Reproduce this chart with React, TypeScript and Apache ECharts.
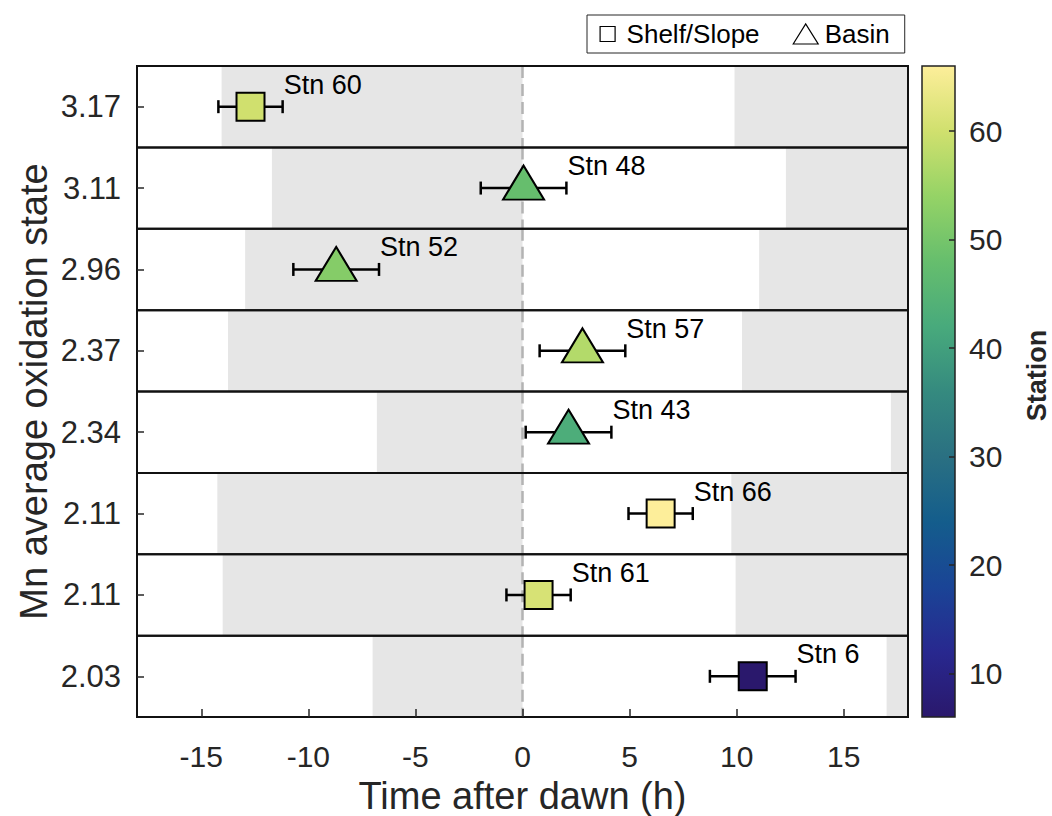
import React, { useEffect, useRef } from 'react';
import * as echarts from 'echarts';

// ---------------- data ----------------
const rowLabels = ['3.17', '3.11', '2.96', '2.37', '2.34', '2.11', '2.11', '2.03'];
const stations = [60, 48, 52, 57, 43, 66, 61, 6];
const stationType = ['Shelf/Slope', 'Basin', 'Basin', 'Basin', 'Basin', 'Shelf/Slope', 'Shelf/Slope', 'Shelf/Slope'];
const timeAfterDawn = [-12.7, 0.05, -8.7, 2.8, 2.15, 6.45, 0.75, 10.75];
const timeError = [1.5, 2.0, 2.0, 2.0, 2.0, 1.5, 1.5, 2.0];
const nightStart = [-14.05, -11.7, -12.95, -13.75, -6.8, -14.25, -14.0, -7.0];
const duskTime = [9.9, 12.3, 11.05, 10.25, 17.2, 9.75, 9.95, 17.0];
const dawnTime = 0;
const xRange = [-18, 18];
const xTicks = [-15, -10, -5, 0, 5, 10, 15];
const colorbarRange = [6, 66];
const colorbarTicks = [10, 20, 30, 40, 50, 60];
const legendNames = ['Shelf/Slope', 'Basin'];
const halineColors = [
  '#2a186c', '#28288f', '#1a4496', '#145d8c', '#2a7082', '#358a7f',
  '#48aa7c', '#66be6d', '#95d366', '#d0e06e', '#fdee9a',
];

// ---------------- layout ----------------
const FONT = '"Liberation Sans", Arial, Helvetica, sans-serif';
const PLOT_LEFT = 137;
const PLOT_TOP = 66;
const PLOT_W = 771;
const PLOT_H = 651;
const ROWS = rowLabels.length;
const ROW_H = PLOT_H / ROWS;
const AX = '#262626';

function buildOption() {
  const grids: any[] = [];
  const xAxes: any[] = [];
  const yAxes: any[] = [];
  const series: any[] = [];
  const scatterIdx: number[] = [];

  for (let i = 0; i < ROWS; i++) {
    const isBottom = i === ROWS - 1;
    grids.push({ left: PLOT_LEFT, top: PLOT_TOP + i * ROW_H, width: PLOT_W, height: ROW_H, outerBoundsMode: 'none' });
    xAxes.push({
      gridIndex: i,
      type: 'value',
      min: xRange[0],
      max: xRange[1],
      show: isBottom,
      position: 'bottom',
      z: 8,
      axisLine: { show: false, onZero: false },
      splitLine: { show: false },
      axisTick: isBottom
        ? { show: true, inside: true, length: 8, customValues: xTicks, lineStyle: { color: AX, width: 1.5 } }
        : { show: false },
      axisLabel: isBottom
        ? { show: true, customValues: xTicks, fontSize: 30, fontFamily: FONT, color: AX, margin: 24 }
        : { show: false },
      name: isBottom ? 'Time after dawn (h)' : '',
      nameLocation: 'middle',
      nameGap: 60,
      nameTextStyle: { fontSize: 38, fontFamily: FONT, color: AX },
    });
    yAxes.push({
      gridIndex: i,
      type: 'value',
      min: 0,
      max: 1,
      interval: 0.5,
      position: 'left',
      z: 8,
      axisLine: { show: false, onZero: false },
      splitLine: { show: false },
      axisTick: { show: true, inside: true, length: 7, lineStyle: { color: AX, width: 1.5 } },
      axisLabel: {
        show: true,
        fontSize: 31,
        fontFamily: FONT,
        color: AX,
        margin: 16,
        showMinLabel: false,
        showMaxLabel: false,
        formatter: (v: number) => (Math.abs(v - 0.5) < 1e-6 ? rowLabels[i] : ''),
      },
    });

    // night shading
    series.push({
      type: 'custom',
      xAxisIndex: i,
      yAxisIndex: i,
      silent: true,
      z: 1,
      encode: { x: [0, 1], y: 2 },
      data: [
        [nightStart[i], dawnTime, 0.5],
        [duskTime[i], xRange[1], 0.5],
      ],
      renderItem: (params: any, api: any) => {
        const cs = params.coordSys;
        const x0 = api.coord([api.value(0), 0.5])[0];
        const x1 = api.coord([api.value(1), 0.5])[0];
        return {
          type: 'rect',
          shape: { x: x0, y: cs.y, width: x1 - x0, height: cs.height },
          style: { fill: '#e6e6e6' },
        };
      },
    });
    // dawn dashed line
    series.push({
      type: 'custom',
      xAxisIndex: i,
      yAxisIndex: i,
      silent: true,
      z: 2,
      data: [[dawnTime, 0.5]],
      renderItem: (params: any, api: any) => {
        const cs = params.coordSys;
        const x = api.coord([api.value(0), 0.5])[0];
        return {
          type: 'line',
          shape: { x1: x, y1: cs.y, x2: x, y2: cs.y + cs.height },
          style: { stroke: '#b3b3b3', lineWidth: 2.5, lineDash: [12, 6] },
        };
      },
    });
    // error bar + station label
    series.push({
      type: 'custom',
      xAxisIndex: i,
      yAxisIndex: i,
      silent: true,
      z: 3,
      data: [[timeAfterDawn[i], 0.5, timeError[i], stations[i]]],
      renderItem: (params: any, api: any) => {
        const x = api.value(0);
        const y = api.value(1);
        const e = api.value(2);
        const pL = api.coord([x - e, y]);
        const pR = api.coord([x + e, y]);
        const cap = 6.5;
        const st = { stroke: '#000', lineWidth: 2.5 };
        return {
          type: 'group',
          children: [
            { type: 'line', shape: { x1: pL[0], y1: pL[1], x2: pR[0], y2: pR[1] }, style: st },
            { type: 'line', shape: { x1: pL[0], y1: pL[1] - cap, x2: pL[0], y2: pL[1] + cap }, style: st },
            { type: 'line', shape: { x1: pR[0], y1: pR[1] - cap, x2: pR[0], y2: pR[1] + cap }, style: st },
            {
              type: 'text',
              x: pR[0] + 1,
              y: pR[1] - 22,
              style: {
                text: 'Stn ' + api.value(3),
                fill: '#000',
                fontSize: 27,
                fontFamily: FONT,
                align: 'left',
                verticalAlign: 'middle',
              },
            },
          ],
        };
      },
    });
    // marker
    const basin = stationType[i] === 'Basin';
    scatterIdx.push(series.length);
    series.push({
      type: 'scatter',
      name: stationType[i],
      xAxisIndex: i,
      yAxisIndex: i,
      z: 4,
      symbol: basin ? 'triangle' : 'rect',
      symbolSize: basin ? [41, 34] : [28, 28],
      symbolOffset: basin ? [0, -5.5] : [0, 0],
      itemStyle: { borderColor: '#000', borderWidth: 2, opacity: 1 },
      data: [[timeAfterDawn[i], 0.5, stations[i]]],
    });
    // frame
    series.push({
      type: 'custom',
      xAxisIndex: i,
      yAxisIndex: i,
      silent: true,
      z: 6,
      data: [[xRange[0], 0]],
      renderItem: (params: any) => {
        const cs = params.coordSys;
        return {
          type: 'rect',
          shape: { x: cs.x, y: cs.y, width: cs.width, height: cs.height },
          style: { fill: 'none', stroke: '#111', lineWidth: 2 },
        };
      },
    });
  }

  // colorbar grid
  const cbG = ROWS;
  grids.push({ left: 922, top: PLOT_TOP, width: 33, height: PLOT_H, outerBoundsMode: 'none' });
  xAxes.push({ gridIndex: cbG, type: 'value', min: 0, max: 1, show: false });
  yAxes.push({
    gridIndex: cbG,
    type: 'value',
    min: colorbarRange[0],
    max: colorbarRange[1],
    position: 'right',
    z: 8,
    axisLine: { show: false, onZero: false },
    splitLine: { show: false },
    axisTick: { show: true, inside: true, length: 6, customValues: colorbarTicks, lineStyle: { color: AX, width: 1.5 } },
    axisLabel: { show: true, customValues: colorbarTicks, fontSize: 30, fontFamily: FONT, color: AX, margin: 14 },
    name: 'Station',
    nameLocation: 'middle',
    nameRotate: 90,
    nameGap: 68,
    nameTextStyle: { fontSize: 27, fontWeight: 'bold', fontFamily: FONT, color: AX, padding: [0, 0, 0, 32] },
  });
  const stops = halineColors.map((c, k) => ({ offset: k / (halineColors.length - 1), color: c }));
  series.push({
    type: 'custom',
    xAxisIndex: cbG,
    yAxisIndex: cbG,
    silent: true,
    z: 2,
    encode: { x: 2, y: [0, 1] },
    data: [[colorbarRange[0], colorbarRange[1], 0]],
    renderItem: (params: any, api: any) => {
      const top = api.coord([0, api.value(1)]);
      const bot = api.coord([1, api.value(0)]);
      return {
        type: 'rect',
        shape: { x: top[0], y: top[1], width: bot[0] - top[0], height: bot[1] - top[1] },
        style: {
          fill: new echarts.graphic.LinearGradient(0, 1, 0, 0, stops),
          stroke: '#222',
          lineWidth: 1.5,
        },
      };
    },
  });

  // full-height grid for the y-axis title
  const fG = ROWS + 1;
  grids.push({ left: PLOT_LEFT, top: PLOT_TOP, width: PLOT_W, height: PLOT_H, outerBoundsMode: 'none' });
  xAxes.push({ gridIndex: fG, type: 'value', min: 0, max: 1, show: false });
  yAxes.push({
    gridIndex: fG,
    type: 'value',
    min: 0,
    max: 1,
    position: 'left',
    axisLine: { show: false, onZero: false },
    axisTick: { show: false },
    axisLabel: { show: false },
    splitLine: { show: false },
    name: 'Mn average oxidation state',
    nameLocation: 'middle',
    nameGap: 84,
    nameTextStyle: { fontSize: 38, fontFamily: FONT, color: AX },
  });

  return {
    animation: false,
    backgroundColor: '#fff',
    textStyle: { fontFamily: FONT },
    grid: grids,
    xAxis: xAxes,
    yAxis: yAxes,
    visualMap: {
      type: 'continuous',
      show: false,
      min: colorbarRange[0],
      max: colorbarRange[1],
      dimension: 2,
      seriesIndex: scatterIdx,
      inRange: { color: halineColors },
    },
    legend: {
      left: 587,
      top: 15,
      orient: 'horizontal',
      backgroundColor: '#fff',
      borderColor: '#262626',
      borderWidth: 1,
      padding: [6, 15, 6, 10],
      itemGap: 33,
      itemWidth: 28,
      itemHeight: 20,
      selectedMode: false,
      textStyle: { fontSize: 26, fontFamily: FONT, color: '#000' },
      itemStyle: { color: '#fff', borderColor: '#000', borderWidth: 1.2 },
      data: [
        { name: legendNames[0], icon: 'path://M0,0M20,20M2.5,2.5L17.5,2.5L17.5,17.5L2.5,17.5Z' },
        { name: legendNames[1], icon: 'path://M0,20L12.5,0L25,20Z' },
      ],
    },
    series,
  };
}

export default function App() {
  const ref = useRef<HTMLDivElement>(null);
  useEffect(() => {
    if (!ref.current) return;
    const chart = echarts.init(ref.current, undefined, { renderer: 'svg' });
    chart.setOption(buildOption() as any);
    return () => chart.dispose();
  }, []);
  return (
    <div
      ref={ref}
      style={{ position: 'absolute', left: 0, top: 0, width: 1052, height: 816, background: '#fff' }}
    />
  );
}
